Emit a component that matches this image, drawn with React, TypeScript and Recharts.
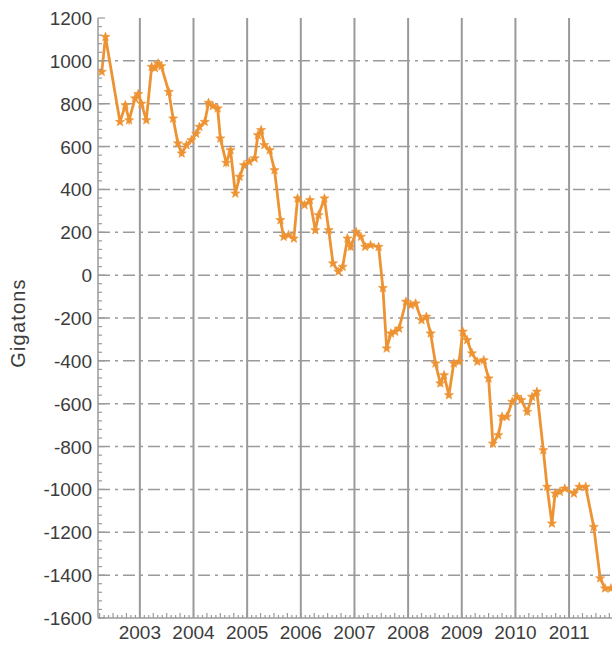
import React from 'react';
import { LineChart, Line, XAxis, YAxis, ReferenceLine } from 'recharts';

const years = [
  2002.29, 2002.36, 2002.63, 2002.73, 2002.80, 2002.91, 2002.97, 2003.03, 2003.12, 2003.22,
  2003.28, 2003.34, 2003.40, 2003.54, 2003.62, 2003.71, 2003.78, 2003.87, 2003.96, 2004.05,
  2004.11, 2004.21, 2004.28, 2004.36, 2004.45, 2004.50, 2004.61, 2004.69, 2004.78, 2004.86,
  2004.94, 2005.04, 2005.14, 2005.20, 2005.26, 2005.32, 2005.42, 2005.51, 2005.62, 2005.68,
  2005.77, 2005.87, 2005.94, 2006.07, 2006.17, 2006.27, 2006.33, 2006.44, 2006.52, 2006.60,
  2006.70, 2006.78, 2006.87, 2006.93, 2007.03, 2007.12, 2007.20, 2007.30, 2007.45, 2007.53,
  2007.60, 2007.68, 2007.76, 2007.83, 2007.96, 2008.05, 2008.14, 2008.25, 2008.34, 2008.42,
  2008.51, 2008.60, 2008.67, 2008.76, 2008.85, 2008.95, 2009.02, 2009.10, 2009.19, 2009.29,
  2009.41, 2009.50, 2009.58, 2009.68, 2009.75, 2009.84, 2009.94, 2010.03, 2010.11, 2010.22,
  2010.31, 2010.40, 2010.52, 2010.59, 2010.68, 2010.74, 2010.83, 2010.92, 2011.09, 2011.19,
  2011.31, 2011.46, 2011.58, 2011.67, 2011.78,
];

const gigatons = [
  949, 1112, 715, 793, 723, 825, 845, 800, 723, 972,
  966, 988, 975, 855, 731, 615, 568, 607, 630, 660,
  692, 715, 804, 789, 778, 638, 524, 583, 381, 459,
  513, 529, 545, 653, 677, 607, 583, 490, 257, 179,
  187, 171, 358, 327, 350, 210, 280, 358, 210, 55,
  16, 39, 171, 132, 202, 179, 132, 140, 132, -60,
  -342, -272, -264, -249, -124, -140, -132, -210, -194, -272,
  -412, -505, -467, -560, -412, -404, -264, -303, -365, -404,
  -397, -482, -786, -747, -661, -661, -591, -568, -583, -638,
  -568, -544, -817, -988, -1159, -1019, -1011, -996, -1019, -988,
  -988, -1175, -1415, -1462, -1462,
];

const yearLabels = [2003, 2004, 2005, 2006, 2007, 2008, 2009, 2010, 2011];
const yGridValues = [-1400, -1200, -1000, -800, -600, -400, -200, 0, 200, 400, 600, 800, 1000];

const X_MIN = 2002.22;
const X_MAX = 2011.8;
const Y_MIN = -1600;
const Y_MAX = 1200;

const data = years.map((y, i) => ({ year: y, gt: gigatons[i] }));

const yMinorTicks: number[] = [];
for (let v = Y_MIN; v <= Y_MAX; v += 40) yMinorTicks.push(v);
const xMinorTicks: number[] = [];
for (let k = 2002 * 12; k <= 2012 * 12; k++) {
  const t = k / 12;
  if (t >= X_MIN && t <= X_MAX) xMinorTicks.push(Math.round(t * 10000) / 10000);
}

const AXIS = '#9a9a9a';
const TEXT = '#3c3c3c';
const ORANGE = '#EE9333';
const FONT = '"Liberation Sans", Arial, sans-serif';

const LeftTick = (props: any) => {
  const { x, y, payload } = props;
  const v = payload.value;
  const major = Math.round(v) % 200 === 0;
  return (
    <g>
      <line x1={x} x2={x + (major ? 7 : 4)} y1={y} y2={y} stroke={AXIS} strokeWidth={1.2} />
      {major && (
        <text x={x - 6} y={y + 7} textAnchor="end" fontSize={19} fill={TEXT} fontFamily={FONT}>
          {v}
        </text>
      )}
    </g>
  );
};

const RightTick = (props: any) => {
  const { x, y, payload } = props;
  const v = payload.value;
  const major = Math.round(v) % 200 === 0;
  return <line x1={x} x2={x - (major ? 7 : 4)} y1={y} y2={y} stroke={AXIS} strokeWidth={1.2} />;
};

const isYear = (v: number) => Math.abs(v - Math.round(v)) < 0.001;
const isQuarter = (v: number) => Math.abs(v * 4 - Math.round(v * 4)) < 0.001;

const BottomTick = (props: any) => {
  const { x, y, payload } = props;
  const v = payload.value;
  const yr = isYear(v);
  const len = isQuarter(v) ? 5 : 3;
  return (
    <g>
      <line x1={x} x2={x} y1={y} y2={y - len} stroke={AXIS} strokeWidth={1.2} />
      {yr && yearLabels.includes(Math.round(v)) && (
        <text x={x} y={y + 21} textAnchor="middle" fontSize={19} fill={TEXT} fontFamily={FONT}>
          {Math.round(v)}
        </text>
      )}
    </g>
  );
};

const TopTick = (props: any) => {
  const { x, y, payload } = props;
  const v = payload.value;
  const len = isQuarter(v) ? 5 : 3;
  return <line x1={x} x2={x} y1={y} y2={y + len} stroke={AXIS} strokeWidth={1.2} />;
};

const StarDot = (props: any) => {
  const { cx, cy, index } = props;
  if (cx == null || cy == null) return <g key={`s${index}`} />;
  const pts: string[] = [];
  const R = 4.8;
  const r = 2;
  for (let i = 0; i < 10; i++) {
    const a = -Math.PI / 2 + (i * Math.PI) / 5;
    const rad = i % 2 === 0 ? R : r;
    pts.push(`${cx + rad * Math.cos(a)},${cy + rad * Math.sin(a)}`);
  }
  return <polygon key={`s${index}`} points={pts.join(' ')} fill={ORANGE} stroke={ORANGE} strokeWidth={0.6} />;
};

export default function App() {
  return (
    <div style={{ position: 'absolute', left: 0, top: 0, width: 614, height: 647, background: '#fff' }}>
      <LineChart width={614} height={647} data={data} margin={{ top: 18, right: 2, bottom: 0, left: 40 }}>
        <XAxis
          xAxisId="bottom"
          dataKey="year"
          type="number"
          domain={[X_MIN, X_MAX]}
          allowDataOverflow
          ticks={xMinorTicks}
          interval={0}
          tickSize={0}
          tickMargin={0}
          tickLine={false}
          height={29}
          axisLine={{ stroke: AXIS, strokeWidth: 1.5 }}
          tick={<BottomTick />}
        />
        <XAxis
          xAxisId="top"
          orientation="top"
          dataKey="year"
          type="number"
          domain={[X_MIN, X_MAX]}
          allowDataOverflow
          ticks={xMinorTicks}
          interval={0}
          tickSize={0}
          tickMargin={0}
          tickLine={false}
          height={0}
          axisLine={{ stroke: AXIS, strokeWidth: 1.5 }}
          tick={<TopTick />}
        />
        <YAxis
          yAxisId="left"
          type="number"
          domain={[Y_MIN, Y_MAX]}
          allowDataOverflow
          ticks={yMinorTicks}
          interval={0}
          tickSize={0}
          tickMargin={0}
          tickLine={false}
          width={58}
          axisLine={{ stroke: AXIS, strokeWidth: 1.5 }}
          tick={<LeftTick />}
          label={{
            content: () => (
              <text
                x={25}
                y={323}
                transform="rotate(-90 25 323)"
                textAnchor="middle"
                fontSize={20}
                letterSpacing={1.2}
                fill={TEXT}
                fontFamily={FONT}
              >
                Gigatons
              </text>
            ),
          }}
        />
        <YAxis
          yAxisId="right"
          orientation="right"
          type="number"
          domain={[Y_MIN, Y_MAX]}
          allowDataOverflow
          ticks={yMinorTicks}
          interval={0}
          tickSize={0}
          tickMargin={0}
          tickLine={false}
          width={0}
          axisLine={{ stroke: AXIS, strokeWidth: 1.5 }}
          tick={<RightTick />}
        />
        {yGridValues.map((v) => (
          <ReferenceLine
            key={`h${v}`}
            y={v}
            xAxisId="bottom"
            yAxisId="left"
            stroke={AXIS}
            strokeWidth={1.5}
            strokeDasharray="12 5 3 5"
          />
        ))}
        {yearLabels.map((yr) => (
          <ReferenceLine key={`v${yr}`} x={yr} xAxisId="bottom" yAxisId="left" stroke={AXIS} strokeWidth={2} />
        ))}
        <Line
          xAxisId="bottom"
          yAxisId="left"
          dataKey="gt"
          stroke={ORANGE}
          strokeWidth={2.8}
          dot={<StarDot />}
          activeDot={false}
          isAnimationActive={false}
        />
      </LineChart>
    </div>
  );
}
